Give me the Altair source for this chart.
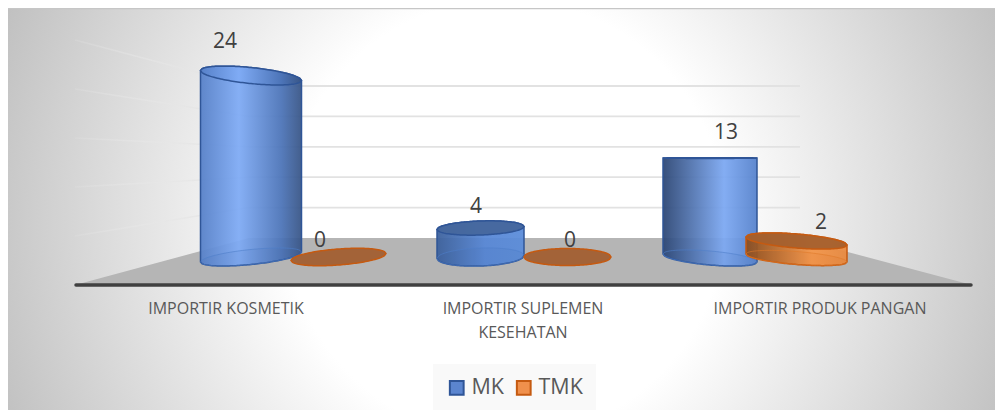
import math
import altair as alt
import pandas as pd

# ---- chart values ----
CATEGORIES = ["IMPORTIR KOSMETIK", "IMPORTIR SUPLEMEN\nKESEHATAN", "IMPORTIR PRODUK PANGAN"]
SERIES = ["MK", "TMK"]
MK = [24, 4, 13]
TMK = [0, 0, 2]
TICKS = [0, 5, 10, 15, 20, 25]

# ---- layout: page pixels are converted to scale units below ----
PX0, PX1, PY0, PY1 = 70, 995, 8, 410
CAT_STEP, CAT_C = 297.0, 226.0
VAL_STEP, VAL_0 = 9.8, 285.0
def X(px): return (px - CAT_C) / CAT_STEP
def Y(py): return (VAL_0 - py) / VAL_STEP

X_DOMAIN = [X(PX0), X(PX1)]
Y_DOMAIN = [Y(PY1), Y(PY0)]
W, H = PX1 - PX0, PY1 - PY0
xs = alt.Scale(domain=X_DOMAIN, nice=False, zero=False)
ys = alt.Scale(domain=Y_DOMAIN, nice=False, zero=False)
FONT = "Open Sans"
TXT = "#595959"

def xe(f="x"): return alt.X(f"{f}:Q", scale=xs, axis=None)
def ye(f="y", axis=None): return alt.Y(f"{f}:Q", scale=ys, axis=axis)
def yt(f="y2"): return alt.Y2(f"{f}:Q")

def grad(stops):
    return alt.LinearGradient(gradient="linear", x1=0, x2=1, y1=0, y2=0,
                              stops=[alt.GradientStop(color=c, offset=o) for o, c in stops])

one = pd.DataFrame({"a": [0]})
layers = []

# background
bg = alt.RadialGradient(gradient="radial", x1=0.5035, y1=0.51, r1=0, x2=0.5035, y2=0.51, r2=0.555,
                        stops=[alt.GradientStop(color="#ffffff", offset=0),
                               alt.GradientStop(color="#ffffff", offset=0.4),
                               alt.GradientStop(color="#bfbfbf", offset=1)])
layers.append(alt.Chart(one).mark_rect(fill=bg).encode(
    x=alt.value(-62), x2=alt.value(W), y=alt.value(0), y2=alt.value(H)))
layers.append(alt.Chart(pd.DataFrame({"x": [X(PX0 - 62), X(PX1)], "y": [Y(PY0 + 0.5)] * 2}))
              .mark_line(stroke="#c6c6c6", strokeWidth=1.5).encode(x=xe(), y=ye()))

# floor
FLOOR_X = [75, 249, 795, 972]
FLOOR_Y = [285, 238, 238, 285]
floor = pd.DataFrame({"x": [X(p) for p in FLOOR_X], "y": [Y(p) for p in FLOOR_Y], "y2": [0.0] * 4})
layers.append(alt.Chart(floor).mark_area(color="#b5b5b5", orient="vertical").encode(
    x=xe(), y=ye(), y2=yt()))

# grid lines: side wall then back wall
BACK0, BACK_K = 238.0, 6.08
side_fade = alt.LinearGradient(gradient="linear", x1=0, x2=1, y1=0, y2=0, stops=[
    alt.GradientStop(color="rgba(235,235,235,0.15)", offset=0),
    alt.GradientStop(color="rgba(226,226,226,1)", offset=1)])
back = []
for v in TICKS[1:]:
    by = Y(BACK0 - BACK_K * v)
    side = [{"x": X(75), "y": v}, {"x": X(FLOOR_X[1]), "y": by}]
    back += [{"x": X(FLOOR_X[1]), "y": by, "v": v}, {"x": X(800), "y": by, "v": v}]
    layers.append(alt.Chart(pd.DataFrame(side)).mark_line(stroke=side_fade, strokeWidth=1.5).encode(
        x=xe(), y=ye()))
layers.append(alt.Chart(pd.DataFrame(back)).mark_line(stroke="#e2e2e2", strokeWidth=1.8).encode(
    x=xe(), y=ye(), detail="v:N"))

# front axis line
layers.append(alt.Chart(pd.DataFrame({"x": [X(76), X(971)], "y": [0.0, 0.0]}))
              .mark_line(stroke="#404040", strokeWidth=3.5, strokeCap="round").encode(x=xe(), y=ye()))

# y axis labels
layers.append(alt.Chart(pd.DataFrame({"x": [X(80)], "y": [0]})).mark_point(opacity=0).encode(
    x=xe(),
    y=ye(axis=alt.Axis(values=TICKS, domain=False, ticks=False, grid=False, title=None, zindex=1,
                       labelFont=FONT, labelFontSize=16, labelColor=TXT, labelPadding=9))))

# ---- cylinders (page px geometry, heights from values) ----
BLUE_S, ORG_S = "#2f5597", "#c55a11"
CYL = [
    # series, cat, left, right, base cy, base b, base tilt, rise, top b, top tilt, top fill, stops, label x, label gap
    ("MK", 0, 200.5, 301.5, 257, 7.5, -5, 7.56, 8, 5, None,
     [(0, "#5680c8"), (0.38, "#7fabf5"), (0.8, "#4c74b8"), (1, "#385586")], 225, 33.5),
    ("MK", 1, 437, 524, 257, 9, -1.5, 7.25, 7, -1.5, "#46679d",
     [(0, "#3b609c"), (0.55, "#5787d6"), (1, "#5a8cda")], 476, 21),
    ("MK", 2, 663, 757, 258, 7, 4, 7.69, 0.4, 0, "#46679d",
     [(0, "#2c4674"), (0.65, "#7ca8f2"), (1, "#5682cc")], 726, 25),
    ("TMK", 0, 291, 386, 257, 8, -3.5, 0, 8, -3.5, "#a25f32", None, 320, 16),
    ("TMK", 1, 524, 611, 257, 8.5, 0, 0, 8.5, 0, "#a25f32", None, 570, 16),
    ("TMK", 2, 746, 847, 258, 6.5, 4, 8.5, 7, 4, "#a4602e",
     [(0, "#8a4c1c"), (0.65, "#f6974a"), (1, "#e8893f")], 821, 18),
]
VALUES = {"MK": MK, "TMK": TMK}
N = 60
labels = []
for s, c, L, R, by, bb, bt, rise, tb, tt, tf, stops, lx, gap in CYL:
    val = VALUES[s][c]
    ty = by - val * rise
    cx, a = (L + R) / 2, (R - L) / 2
    us = [-1 + 2 * i / N for i in range(N + 1)]
    stroke = BLUE_S if s == "MK" else ORG_S
    rows_body, rows_base, rows_top = [], [], []
    for u in us:
        k = math.sqrt(max(0.0, 1 - u * u))
        x = X(cx + a * u)
        rows_body.append({"x": x, "y": Y(ty - tb * k + tt * u), "y2": Y(by + bb * k + bt * u)})
        rows_base.append({"x": x, "y": Y(by - bb * k + bt * u), "y2": Y(by + bb * k + bt * u)})
        rows_top.append({"x": x, "y": Y(ty - tb * k + tt * u), "y2": Y(ty + tb * k + tt * u)})
    if val > 0:
        layers.append(alt.Chart(pd.DataFrame(rows_body)).mark_area(
            fill=grad(stops), stroke=stroke, strokeWidth=1.5, fillOpacity=0.94, orient="vertical").encode(
            x=xe(), y=ye(), y2=yt()))
        layers.append(alt.Chart(pd.DataFrame(rows_base)).mark_area(
            fill=stroke, fillOpacity=0.07, stroke="#4f7fca" if s == "MK" else "#e07a2a",
            strokeWidth=1, strokeOpacity=0.6, orient="vertical").encode(x=xe(), y=ye(), y2=yt()))
    cap = grad(stops) if tf is None else tf
    layers.append(alt.Chart(pd.DataFrame(rows_top)).mark_area(
        fill=cap, stroke=stroke, strokeWidth=1.5, fillOpacity=0.95, orient="vertical").encode(
        x=xe(), y=ye(), y2=yt()))
    labels.append({"x": X(lx), "y": Y(ty - gap), "t": str(val)})

layers.append(alt.Chart(pd.DataFrame(labels)).mark_text(
    font=FONT, fontSize=21, color="#404040", align="center", baseline="middle").encode(
    x=xe(), y=ye(), text="t:N"))

# category labels
cats = pd.DataFrame({"x": list(range(len(CATEGORIES))), "y": [Y(309)] * len(CATEGORIES), "t": CATEGORIES})
layers.append(alt.Chart(cats).mark_text(
    font=FONT, fontSize=16, color=TXT, align="center", baseline="middle", lineBreak="\n", lineHeight=24).encode(
    x=xe(), y=ye(), text="t:N"))

# legend
leg = pd.DataFrame({"s": SERIES, "x": [0, 0], "y": [0, 0]})
fill_scale = alt.Scale(domain=SERIES, range=["#5b85cf", "#f0904c"])
stroke_scale = alt.Scale(domain=SERIES, range=[BLUE_S, ORG_S])
legend = alt.Legend(title=None, orient="none", legendX=363, legendY=356, direction="horizontal",
                    symbolType="square", symbolSize=190, symbolStrokeWidth=2, symbolOpacity=1,
                    labelFont=FONT, labelFontSize=21.5, labelColor=TXT, fillColor="#f9f9f9",
                    padding=13, columnPadding=7, labelOffset=4)
layers.append(alt.Chart(leg).transform_filter("datum.x > 0").mark_square(filled=True, size=100).encode(
    x=xe(), y=ye(),
    fill=alt.Fill("s:N", scale=fill_scale, legend=legend),
    stroke=alt.Stroke("s:N", scale=stroke_scale, legend=legend)))

chart = alt.layer(*layers).properties(
    width=W, height=H,
    autosize=alt.AutoSizeParams(type="none"),
    padding={"left": 62, "top": 0, "right": 0, "bottom": 0},
).configure_view(strokeWidth=0)

chart.save("out.html", embed_options={"renderer": "svg", "actions": False})
